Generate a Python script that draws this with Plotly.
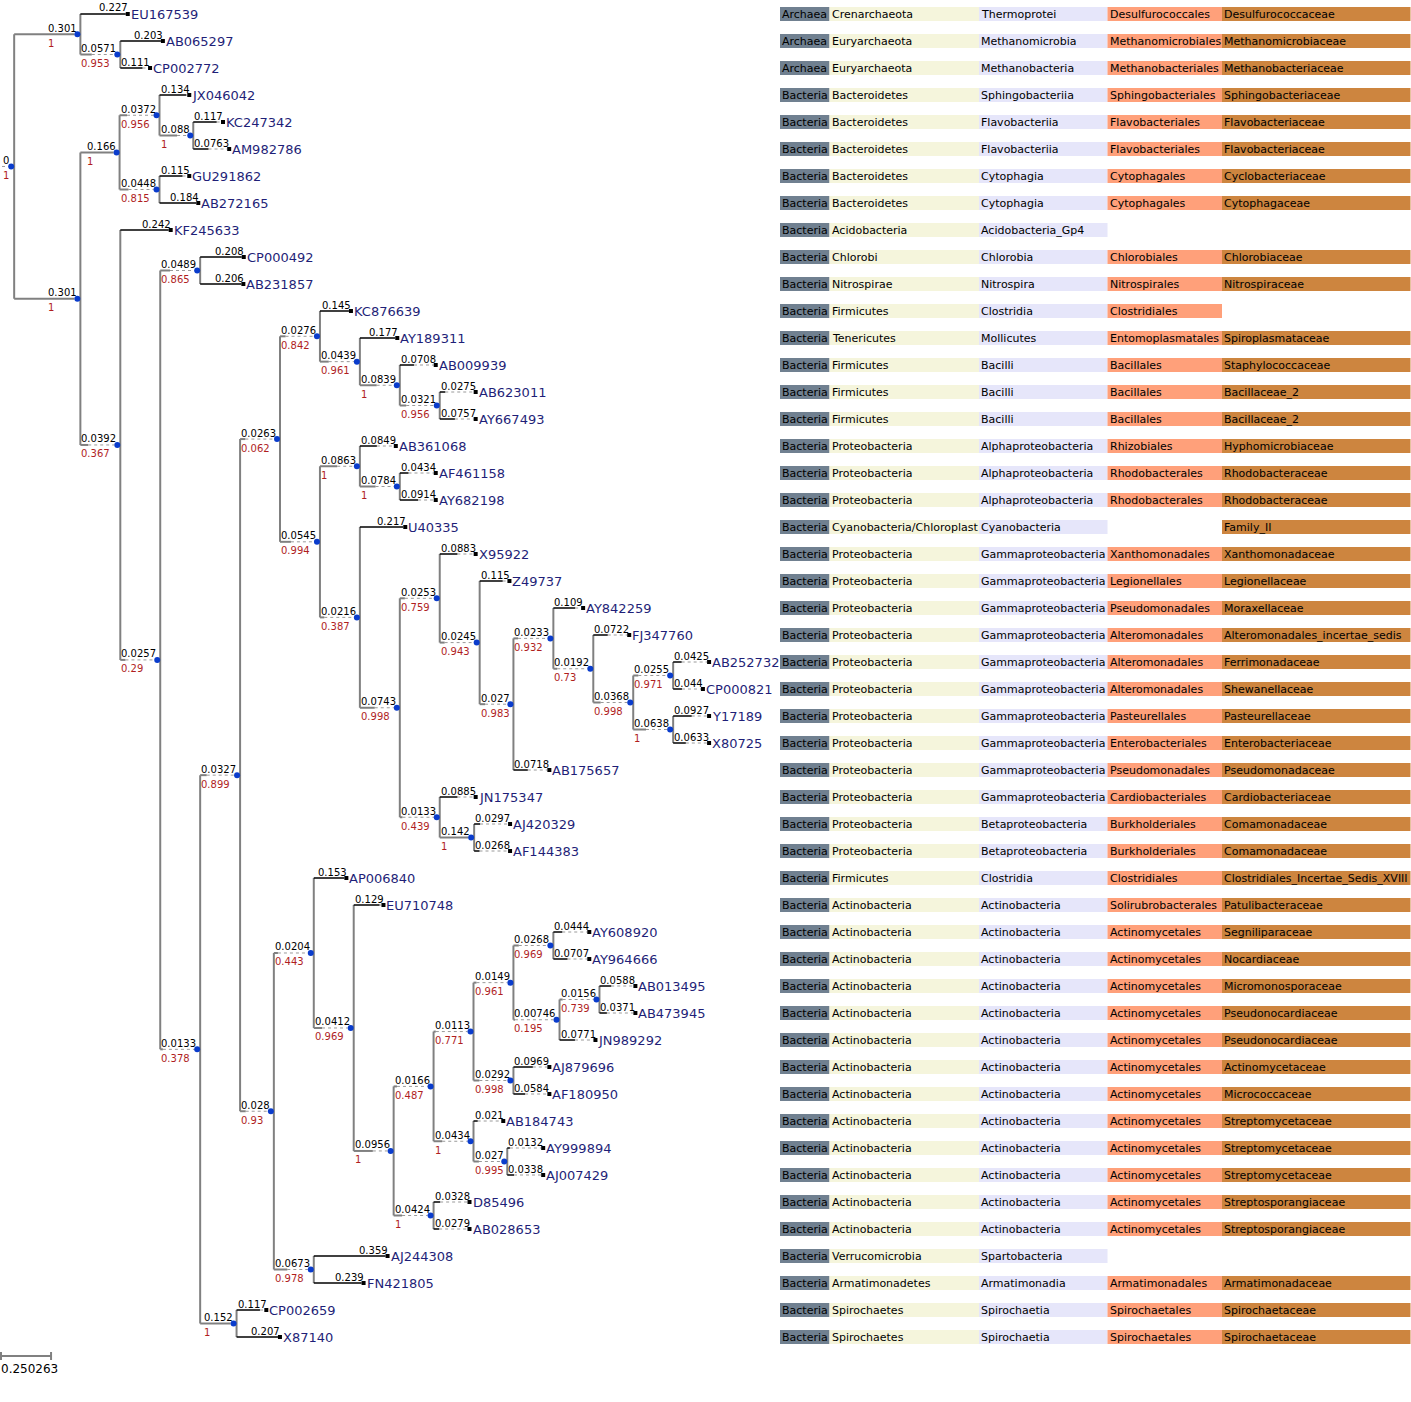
import plotly.graph_objects as go

# ---------------- data ----------------
leaf_names = ["EU167539", "AB065297", "CP002772", "JX046042", "KC247342", "AM982786",
              "GU291862", "AB272165", "KF245633", "CP000492", "AB231857", "KC876639",
              "AY189311", "AB009939", "AB623011", "AY667493", "AB361068", "AF461158",
              "AY682198", "U40335", "X95922", "Z49737", "AY842259", "FJ347760",
              "AB252732", "CP000821", "Y17189", "X80725", "AB175657", "JN175347",
              "AJ420329", "AF144383", "AP006840", "EU710748", "AY608920", "AY964666",
              "AB013495", "AB473945", "JN989292", "AJ879696", "AF180950", "AB184743",
              "AY999894", "AJ007429", "D85496", "AB028653", "AJ244308", "FN421805",
              "CP002659", "X87140"]
leaf_dist = [0.227, 0.203, 0.111, 0.134, 0.117, 0.0763, 0.115, 0.184, 0.242, 0.208,
             0.206, 0.145, 0.177, 0.0708, 0.0275, 0.0757, 0.0849, 0.0434, 0.0914, 0.217,
             0.0883, 0.115, 0.109, 0.0722, 0.0425, 0.044, 0.0927, 0.0633, 0.0718, 0.0885,
             0.0297, 0.0268, 0.153, 0.129, 0.0444, 0.0707, 0.0588, 0.0371, 0.0771, 0.0969,
             0.0584, 0.021, 0.0132, 0.0338, 0.0328, 0.0279, 0.359, 0.239, 0.117, 0.207]

node_ids = ["root", "A", "A1", "B", "C", "C1", "C11", "C2", "D", "E", "F", "G", "Z", "H",
            "I", "K", "K1", "K2", "K3", "L", "L1", "L11", "L2", "M", "N", "N1", "N2", "N3",
            "N4", "N5", "N6", "N7", "O", "O1", "J", "P", "P1", "R", "S", "S1", "S11",
            "S111", "S112", "S1121", "S12", "S2", "S21", "T", "Q"]
node_dist = [0, 0.301, 0.0571, 0.301, 0.166, 0.0372, 0.088, 0.0448, 0.0392, 0.0257,
             0.0489, 0.0133, 0.152, 0.0327, 0.0263, 0.0276, 0.0439, 0.0839, 0.0321, 0.0545,
             0.0863, 0.0784, 0.0216, 0.0743, 0.0253, 0.0245, 0.027, 0.0233, 0.0192, 0.0368,
             0.0255, 0.0638, 0.0133, 0.142, 0.028, 0.0204, 0.0412, 0.0956, 0.0166, 0.0113,
             0.0149, 0.0268, 0.00746, 0.0156, 0.0292, 0.0434, 0.027, 0.0424, 0.0673]
node_support = [1, 1, 0.953, 1, 1, 0.956, 1, 0.815, 0.367, 0.29, 0.865, 0.378, 1, 0.899,
                0.062, 0.842, 0.961, 1, 0.956, 0.994, 1, 1, 0.387, 0.998, 0.759, 0.943,
                0.983, 0.932, 0.73, 0.998, 0.971, 1, 0.439, 1, 0.93, 0.443, 0.969, 1,
                0.487, 0.771, 0.961, 0.969, 0.195, 0.739, 0.998, 1, 0.995, 1, 0.978]
node_children = [
    ["A", "B"], ["EU167539", "A1"], ["AB065297", "CP002772"], ["C", "D"], ["C1", "C2"],
    ["JX046042", "C11"], ["KC247342", "AM982786"], ["GU291862", "AB272165"],
    ["KF245633", "E"], ["F", "G"], ["CP000492", "AB231857"], ["H", "Z"],
    ["CP002659", "X87140"], ["I", "J"], ["K", "L"], ["KC876639", "K1"],
    ["AY189311", "K2"], ["AB009939", "K3"], ["AB623011", "AY667493"], ["L1", "L2"],
    ["AB361068", "L11"], ["AF461158", "AY682198"], ["U40335", "M"], ["N", "O"],
    ["X95922", "N1"], ["Z49737", "N2"], ["N3", "AB175657"], ["AY842259", "N4"],
    ["FJ347760", "N5"], ["N6", "N7"], ["AB252732", "CP000821"], ["Y17189", "X80725"],
    ["JN175347", "O1"], ["AJ420329", "AF144383"], ["P", "Q"], ["AP006840", "P1"],
    ["EU710748", "R"], ["S", "T"], ["S1", "S2"], ["S11", "S12"], ["S111", "S112"],
    ["AY608920", "AY964666"], ["S1121", "JN989292"], ["AB013495", "AB473945"],
    ["AJ879696", "AF180950"], ["AB184743", "S21"], ["AY999894", "AJ007429"],
    ["D85496", "AB028653"], ["AJ244308", "FN421805"]]

domain = ["Archaea"] * 3 + ["Bacteria"] * 47
phylum = ["Crenarchaeota", "Euryarchaeota", "Euryarchaeota", "Bacteroidetes", "Bacteroidetes",
          "Bacteroidetes", "Bacteroidetes", "Bacteroidetes", "Acidobacteria", "Chlorobi",
          "Nitrospirae", "Firmicutes", "Tenericutes", "Firmicutes", "Firmicutes", "Firmicutes",
          "Proteobacteria", "Proteobacteria", "Proteobacteria", "Cyanobacteria/Chloroplast"]
phylum += ["Proteobacteria"] * 12 + ["Firmicutes"] + ["Actinobacteria"] * 13
phylum += ["Verrucomicrobia", "Armatimonadetes", "Spirochaetes", "Spirochaetes"]
klass = ["Thermoprotei", "Methanomicrobia", "Methanobacteria", "Sphingobacteriia",
         "Flavobacteriia", "Flavobacteriia", "Cytophagia", "Cytophagia", "Acidobacteria_Gp4",
         "Chlorobia", "Nitrospira", "Clostridia", "Mollicutes", "Bacilli", "Bacilli", "Bacilli",
         "Alphaproteobacteria", "Alphaproteobacteria", "Alphaproteobacteria", "Cyanobacteria"]
klass += ["Gammaproteobacteria"] * 10 + ["Betaproteobacteria"] * 2 + ["Clostridia"]
klass += ["Actinobacteria"] * 13 + ["Spartobacteria", "Armatimonadia", "Spirochaetia", "Spirochaetia"]
order = ["Desulfurococcales", "Methanomicrobiales", "Methanobacteriales", "Sphingobacteriales",
         "Flavobacteriales", "Flavobacteriales", "Cytophagales", "Cytophagales", "",
         "Chlorobiales", "Nitrospirales", "Clostridiales", "Entomoplasmatales", "Bacillales",
         "Bacillales", "Bacillales", "Rhizobiales", "Rhodobacterales", "Rhodobacterales", "",
         "Xanthomonadales", "Legionellales", "Pseudomonadales", "Alteromonadales",
         "Alteromonadales", "Alteromonadales", "Pasteurellales", "Enterobacteriales",
         "Pseudomonadales", "Cardiobacteriales", "Burkholderiales", "Burkholderiales",
         "Clostridiales", "Solirubrobacterales"]
order += ["Actinomycetales"] * 12 + ["", "Armatimonadales", "Spirochaetales", "Spirochaetales"]
family = ["Desulfurococcaceae", "Methanomicrobiaceae", "Methanobacteriaceae",
          "Sphingobacteriaceae", "Flavobacteriaceae", "Flavobacteriaceae", "Cyclobacteriaceae",
          "Cytophagaceae", "", "Chlorobiaceae", "Nitrospiraceae", "", "Spiroplasmataceae",
          "Staphylococcaceae", "Bacillaceae_2", "Bacillaceae_2", "Hyphomicrobiaceae",
          "Rhodobacteraceae", "Rhodobacteraceae", "Family_II", "Xanthomonadaceae",
          "Legionellaceae", "Moraxellaceae", "Alteromonadales_incertae_sedis",
          "Ferrimonadaceae", "Shewanellaceae", "Pasteurellaceae", "Enterobacteriaceae",
          "Pseudomonadaceae", "Cardiobacteriaceae", "Comamonadaceae", "Comamonadaceae",
          "Clostridiales_Incertae_Sedis_XVIII", "Patulibacteraceae", "Segniliparaceae",
          "Nocardiaceae", "Micromonosporaceae", "Pseudonocardiaceae", "Pseudonocardiaceae",
          "Actinomycetaceae", "Micrococcaceae", "Streptomycetaceae", "Streptomycetaceae",
          "Streptomycetaceae", "Streptosporangiaceae", "Streptosporangiaceae", "",
          "Armatimonadaceae", "Spirochaetaceae", "Spirochaetaceae"]
scale_bar_value = 0.250263

# ---------------- layout constants / styles ----------------
W, H = 1411, 1402
SCALE = 200.0          # px per branch-length unit
ROW0, ROW_STEP = 14, 27
ROOT_X = 2.0
DOT = 6
SQ = 4
FONT = "DejaVu Sans"
GRAY = "#808080"
SUP_COLOR = "#b01e1e"
NAME_COLOR = "#1f1f78"
DOT_COLOR = "#0a3ccc"
col_edges = [780, 829.5, 979, 1107.5, 1222, 1410.5]
col_colors = ["#708090", "#F5F5DC", "#E6E6FA", "#FFA07A", "#CD853F"]


def fmt(v):
    return f"{v:g}"


def label_w(s):
    return sum(3.08 if c == "." else 6.17 for c in s)


leaf_i = {n: i for i, n in enumerate(leaf_names)}
node_i = {n: i for i, n in enumerate(node_ids)}

gray_x, gray_y = [], []
black_x, black_y = [], []
dotsq_x, dotsq_y = [], []
nodes_x, nodes_y = [], []
sq_x, sq_y = [], []
annotations = []
leaf_rows = []
counter = [0]


def add_text(x, y, text, size, color, yanchor, xanchor="left"):
    annotations.append(dict(x=x, y=y, xref="x", yref="y", text=text, showarrow=False,
                            xanchor=xanchor, yanchor=yanchor, borderpad=0,
                            font=dict(family=FONT, size=size, color=color)))


def layout(name, px):
    is_leaf = name in leaf_i
    if is_leaf:
        d = leaf_dist[leaf_i[name]]
        bot = ""
    else:
        k = node_i[name]
        d = node_dist[k]
        bot = fmt(node_support[k])
    top = fmt(d)
    wt, wb = label_w(top), (label_w(bot) if bot else 0)
    w = max(d * SCALE, wt, wb)
    if is_leaf:
        y = ROW0 + ROW_STEP * counter[0]
        counter[0] += 1
        leaf_rows.append((name, y))
    else:
        cpx = px + w + DOT
        ys = [layout(c, cpx) for c in node_children[node_i[name]]]
        y = (ys[0] + ys[-1]) / 2
        gray_x.extend([cpx, cpx, None])
        gray_y.extend([ys[0], ys[-1], None])
    sol_end = px + d * SCALE
    if is_leaf:
        black_x.extend([px, sol_end, None]); black_y.extend([y, y, None])
    elif d > 0:
        gray_x.extend([px, sol_end, None]); gray_y.extend([y, y, None])
    if w > d * SCALE + 0.5:
        dotsq_x.extend([sol_end, px + w, None]); dotsq_y.extend([y, y, None])
    gl = px + w - max(wt, wb)
    add_text(gl, y + 0.5, top, 10, "black", "bottom")
    if bot:
        add_text(gl, y + 2.5, bot, 10, SUP_COLOR, "top")
    if is_leaf:
        sq_x.append(px + w + SQ / 2); sq_y.append(y)
        add_text(px + w + SQ, y, name, 13, NAME_COLOR, "middle")
    else:
        nodes_x.append(px + w + DOT / 2); nodes_y.append(y)
    return y


layout("root", ROOT_X)

fig = go.Figure()
fig.add_trace(go.Scatter(x=dotsq_x, y=dotsq_y, mode="lines",
                         line=dict(color="#9a9a9a", width=1, dash="dot"), hoverinfo="skip"))
fig.add_trace(go.Scatter(x=gray_x, y=gray_y, mode="lines",
                         line=dict(color=GRAY, width=2), hoverinfo="skip"))
fig.add_trace(go.Scatter(x=black_x, y=black_y, mode="lines",
                         line=dict(color="black", width=1.5), hoverinfo="skip"))
fig.add_trace(go.Scatter(x=nodes_x, y=nodes_y, mode="markers",
                         marker=dict(color=DOT_COLOR, size=DOT, line=dict(width=0)),
                         hoverinfo="skip"))
fig.add_trace(go.Scatter(x=sq_x, y=sq_y, mode="markers",
                         marker=dict(color="black", size=SQ, symbol="square", line=dict(width=0)),
                         hoverinfo="skip"))

# scale bar
sb_len = scale_bar_value * SCALE
sb_y = ROW0 + ROW_STEP * len(leaf_names) - 8
fig.add_trace(go.Scatter(x=[1, 1 + sb_len, None, 1, 1, None, 1 + sb_len, 1 + sb_len],
                         y=[sb_y, sb_y, None, sb_y - 4, sb_y + 4, None, sb_y - 4, sb_y + 4],
                         mode="lines", line=dict(color=GRAY, width=2), hoverinfo="skip"))
add_text(0, sb_y + 5, fmt(scale_bar_value), 12, "black", "top")

# taxonomy table
shapes = []
row_by_name = dict(leaf_rows)
columns = [domain, phylum, klass, order, family]
for name in leaf_names:
    i = leaf_i[name]
    y = row_by_name[name]
    for c, col in enumerate(columns):
        val = col[i]
        if not val:
            continue
        shapes.append(dict(type="rect", xref="x", yref="y", x0=col_edges[c], x1=col_edges[c + 1],
                           y0=y - 7, y1=y + 7, fillcolor=col_colors[c], line=dict(width=0),
                           layer="below"))
        add_text(col_edges[c] + 1, y, val, 11, "black", "middle")

fig.update_layout(
    width=W, height=H, margin=dict(l=0, r=0, t=0, b=0),
    paper_bgcolor="white", plot_bgcolor="white", showlegend=False,
    xaxis=dict(range=[0, W], visible=False, fixedrange=True),
    yaxis=dict(range=[H, 0], visible=False, fixedrange=True),
    shapes=shapes, annotations=annotations,
)
fig.write_html("out.html", config={"displayModeBar": False},
               post_script="document.body.style.margin='0';document.body.style.overflow='hidden';")
